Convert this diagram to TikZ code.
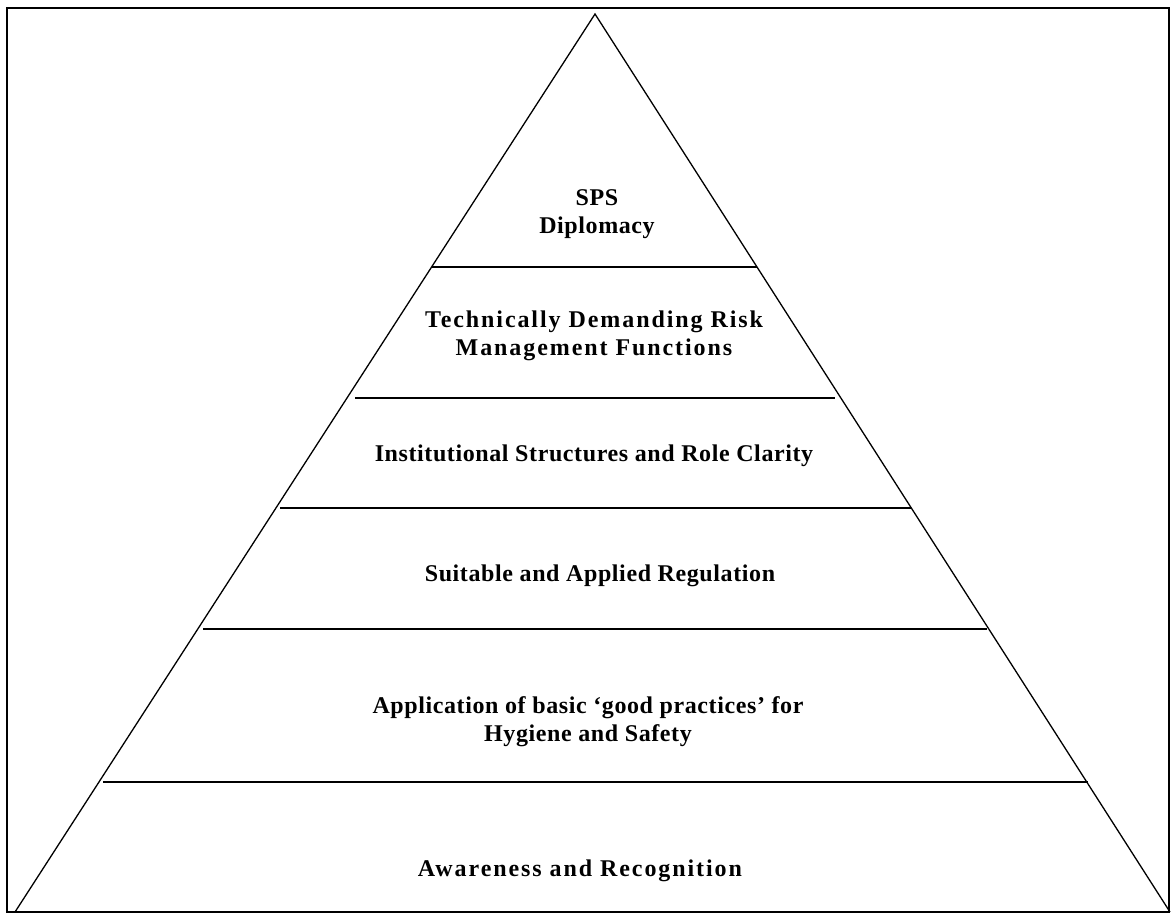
\documentclass[tikz,border=0pt]{standalone}
\usepackage{fontspec}
\setmainfont{Liberation Serif}
\newfontfamily\tierfont[LetterSpace=2.5]{Liberation Serif}
\newfontfamily\widetierfont[LetterSpace=8]{Liberation Serif}
\begin{document}
\begin{tikzpicture}[x=0.5pt,y=-0.5pt,
		tier/.style={font=\tierfont\bfseries\fontsize{12}{14}\selectfont, align=center, inner sep=0pt},
		widetier/.style={tier, font=\widetierfont\bfseries\fontsize{12}{14}\selectfont},
		rule/.style={line width=0.65pt}]
\useasboundingbox (0,0) rectangle (1171,917);
\draw[line width=1pt] (7,8) rectangle (1169,912);

\coordinate (apex) at (595,14);
\coordinate (bl) at (15,912);
\coordinate (br) at (1170,912);
\draw[rule] (bl) -- (apex) -- (br);

\draw[rule] (432,267) -- (757,267);
\draw[rule] (355,398) -- (835,398);
\draw[rule] (280,508) -- (911,508);
\draw[rule] (203,629) -- (987,629);
\draw[rule] (103,782) -- (1088,782);

\node[tier] (sps) at (597,214) {SPS\\Diplomacy};
\node[widetier] (tech) at (594,336) {Technically Demanding Risk\\Management Functions};
\node[tier] (inst) at (594,456) {Institutional Structures and Role Clarity};
\node[tier] (reg) at (600,576) {Suitable and Applied Regulation};
\node[tier] (good) at (588,722) {Application of basic ‘good practices’ for\\Hygiene and Safety};
\node[widetier] (aware) at (580,871) {Awareness and Recognition};
\end{tikzpicture}
\end{document}
